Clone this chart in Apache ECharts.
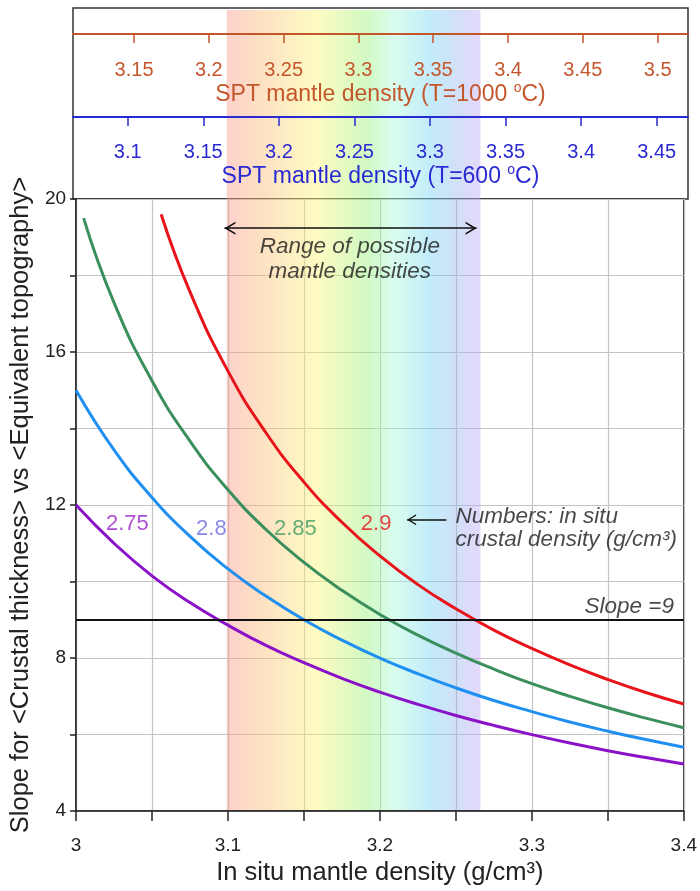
<!DOCTYPE html>
<html>
<head>
<meta charset="utf-8">
<script src="https://cdn.jsdelivr.net/npm/echarts@6/dist/echarts.min.js"></script>
<style>
  html, body { margin: 0; padding: 0; background: #fff; }
  #chart { width: 700px; height: 891px; }
</style>
</head>
<body>
<div id="chart"></div>
<script>
// in situ mantle density (x) for each curve
const mantleX = [3.0, 3.025, 3.05, 3.075, 3.1, 3.125, 3.15, 3.175, 3.2, 3.225, 3.25, 3.275, 3.3, 3.325, 3.35, 3.375, 3.4];
const mantleX285 = [3.005, 3.025, 3.05, 3.075, 3.1, 3.125, 3.15, 3.175, 3.2, 3.225, 3.25, 3.275, 3.3, 3.325, 3.35, 3.375, 3.4];
const mantleX290 = [3.056, 3.075, 3.1, 3.125, 3.15, 3.175, 3.2, 3.225, 3.25, 3.275, 3.3, 3.325, 3.35, 3.375, 3.4];

// slope values
const slope275 = [12.0, 11.0, 10.15, 9.45, 8.86, 8.33, 7.88, 7.47, 7.11, 6.79, 6.5, 6.24, 6.0, 5.78, 5.58, 5.4, 5.23];
const slope280 = [15.0, 13.44, 12.2, 11.18, 10.33, 9.62, 9.0, 8.47, 8.0, 7.59, 7.22, 6.89, 6.6, 6.33, 6.09, 5.87, 5.67];
const slope285 = [19.5, 17.29, 15.25, 13.67, 12.4, 11.36, 10.5, 9.77, 9.14, 8.6, 8.13, 7.71, 7.33, 7.0, 6.7, 6.43, 6.18];
const slope290 = [19.6, 17.57, 15.5, 13.89, 12.6, 11.55, 10.67, 9.92, 9.29, 8.73, 8.25, 7.82, 7.44, 7.1, 6.8];

const crustLabels = ["2.75", "2.8", "2.85", "2.9"];
const slopeRef = 9;
const bandRange = [3.1, 3.265];

// main axes tick labels
const xLabels = [3, 3.1, 3.2, 3.3, 3.4];
const yLabels = [4, 8, 12, 16, 20];

// top SPT axes (range at the box edges + labelled ticks)
const redRange = [3.1092, 3.5203];
const redTicks = [3.15, 3.2, 3.25, 3.3, 3.35, 3.4, 3.45, 3.5];
const blueRange = [3.0638, 3.4707];
const blueTicks = [3.1, 3.15, 3.2, 3.25, 3.3, 3.35, 3.4, 3.45];

const FONT = "Liberation Sans, Arial, sans-serif";
const zip = (xs, ys) => xs.map((x, i) => [x, ys[i]]);

// chevron arrow head whose tip sits at the symbol centre
const chevron = "path://M5.9,0 L6.1,0 L6,0.1 Z M0,20 L6,10 L12,20 L10.4,20 L6,12.8 L1.6,20 Z";

const chart = echarts.init(document.getElementById("chart"));

const curve = (name, xs, ys, color) => ({
  name, type: "line", xAxisIndex: 0, yAxisIndex: 0,
  data: zip(xs, ys), showSymbol: false, smooth: true, z: 4,
  lineStyle: { color, width: 3 }, itemStyle: { color },
});

const textPt = (x, y, text, opts) => ({
  value: [x, y],
  label: Object.assign({ show: true, position: "inside", formatter: text, fontFamily: FONT }, opts),
});

const subAxis = (grid, range, ticks, color, title, margin, gap) => ({
  type: "value", gridIndex: grid, min: range[0], max: range[1], z: 5,
  axisLine: { show: true, lineStyle: { color, width: 2 } },
  axisTick: { show: true, length: 9, customValues: ticks, lineStyle: { color, width: 1.5 } },
  axisLabel: { customValues: ticks, color, fontSize: 20, margin, fontFamily: FONT },
  splitLine: { show: false },
  name: title, nameLocation: "middle", nameGap: gap,
  nameTextStyle: {
    color, fontSize: 23, fontFamily: FONT, lineHeight: 27,
    rich: { sup: { color, fontSize: 14, verticalAlign: "top", lineHeight: 21, fontFamily: FONT } },
  },
});

const option = {
  backgroundColor: "#fff",
  animation: false,
  grid: [
    { left: 73, right: 12, top: 199, height: 614, show: true, borderColor: "#333", borderWidth: 1.5 },
    { left: 73, right: 12, top: 8, height: 191, show: true, borderColor: "#333", borderWidth: 1.5 },
    { left: 73, right: 12, top: 33, height: 1 },
    { left: 73, right: 12, top: 116, height: 1 },
    { left: 73, right: 12, top: 10, height: 800 },
  ],
  xAxis: [
    {
      type: "value", gridIndex: 0, min: 3, max: 3.4, interval: 0.05,
      axisLine: { lineStyle: { color: "#222", width: 1.5 } },
      axisTick: { length: 10, lineStyle: { color: "#222", width: 1.5 } },
      axisLabel: { customValues: xLabels, color: "#222", fontSize: 19, margin: 25, fontFamily: FONT },
      splitLine: { show: true, lineStyle: { color: "#c4c4c4", width: 1.2 } },
      name: "In situ mantle density (g/cm³)", nameLocation: "middle", nameGap: 45,
      nameTextStyle: { color: "#222", fontSize: 25.5, fontFamily: FONT },
    },
    { type: "value", gridIndex: 1, min: 0, max: 1, show: false },
    subAxis(2, redRange, redTicks, "#c4562c", "SPT mantle density (T=1000 {sup|o}C)", 26, 46),
    subAxis(3, blueRange, blueTicks, "#2a2ad2", "SPT mantle density (T=600 {sup|o}C)", 25, 45),
    { type: "value", gridIndex: 4, min: 3, max: 3.4, show: false },
  ],
  yAxis: [
    {
      type: "value", gridIndex: 0, min: 4, max: 20, interval: 2,
      axisLine: { lineStyle: { color: "#222", width: 1.5 } },
      axisTick: { length: 6, lineStyle: { color: "#222", width: 1.5 } },
      axisLabel: { customValues: yLabels, color: "#222", fontSize: 19, margin: 10, fontFamily: FONT },
      splitLine: { show: true, lineStyle: { color: "#c4c4c4", width: 1.2 } },
      name: "Slope for <Crustal thickness> vs <Equivalent topography>",
      nameLocation: "middle", nameGap: 38,
      nameTextStyle: { color: "#222", fontSize: 25.5, fontFamily: FONT },
    },
    { type: "value", gridIndex: 1, min: 0, max: 1, show: false },
    { type: "value", gridIndex: 2, min: 0, max: 1, show: false },
    { type: "value", gridIndex: 3, min: 0, max: 1, show: false },
    { type: "value", gridIndex: 4, min: 0, max: 1, show: false },
  ],
  series: [
    {
      // colour band of possible mantle densities
      type: "line", xAxisIndex: 4, yAxisIndex: 4, data: [], z: 1, silent: true,
      markArea: {
        silent: true,
        itemStyle: {
          color: new echarts.graphic.LinearGradient(0, 0, 1, 0, [
            { offset: 0, color: "rgba(250,150,137,0.44)" },
            { offset: 0.14, color: "rgba(250,187,117,0.44)" },
            { offset: 0.36, color: "rgba(250,247,117,0.44)" },
            { offset: 0.55, color: "rgba(152,242,117,0.44)" },
            { offset: 0.66, color: "rgba(167,250,217,0.44)" },
            { offset: 0.8, color: "rgba(117,212,245,0.44)" },
            { offset: 0.9, color: "rgba(150,185,237,0.44)" },
            { offset: 1, color: "rgba(192,167,245,0.44)" },
          ]),
        },
        data: [[{ xAxis: bandRange[0] }, { xAxis: bandRange[1] }]],
      },
    },
    curve("2.75", mantleX, slope275, "#8a12c8"),
    curve("2.8", mantleX, slope280, "#1f8ff2"),
    curve("2.85", mantleX285, slope285, "#3a8f5c"),
    curve("2.9", mantleX290, slope290, "#e8141b"),
    {
      // reference line and arrows
      type: "line", xAxisIndex: 0, yAxisIndex: 0, data: [], z: 5,
      markLine: {
        silent: true, symbol: "none", label: { show: false },
        data: [
          { yAxis: slopeRef, lineStyle: { color: "#111", width: 2, type: "solid" } },
          [
            { coord: [3.0977, 19.237], symbol: chevron, symbolSize: [13, 22], lineStyle: { color: "#111", width: 1.6, type: "solid" } },
            { coord: [3.2636, 19.237], symbol: chevron, symbolSize: [13, 22] },
          ],
          [
            { coord: [3.2438, 11.617], symbol: "none", lineStyle: { color: "#111", width: 1.5, type: "solid" } },
            { coord: [3.2179, 11.617], symbol: chevron, symbolSize: [11, 18] },
          ],
        ],
      },
    },
    {
      // text annotations
      type: "scatter", xAxisIndex: 0, yAxisIndex: 0, symbolSize: 0, z: 6, silent: true,
      data: [
        textPt(3.0338, 11.5, crustLabels[0], { color: "#9a22c8", fontSize: 22 }),
        textPt(3.0891, 11.375, crustLabels[1], { color: "#6b6be2", fontSize: 22 }),
        textPt(3.1444, 11.375, crustLabels[2], { color: "#3d9a62", fontSize: 22 }),
        textPt(3.1975, 11.5, crustLabels[3], { color: "#e8141b", fontSize: 22 }),
        textPt(3.1802, 18.43, "Range of possible\nmantle densities", { color: "#1a1a1a", fontSize: 22.5, fontStyle: "italic", lineHeight: 24.5, align: "center" }),
        textPt(3.2498, 11.395, "Numbers: in situ\ncrustal density (g/cm³)", { color: "#1a1a1a", fontSize: 22.5, fontStyle: "italic", lineHeight: 23.5, align: "left" }),
        textPt(3.3935, 9.342, "Slope =" + slopeRef, { color: "#1a1a1a", fontSize: 22.5, fontStyle: "italic", align: "right" }),
      ],
    },
  ],
};

chart.setOption(option);
</script>
</body>
</html>
